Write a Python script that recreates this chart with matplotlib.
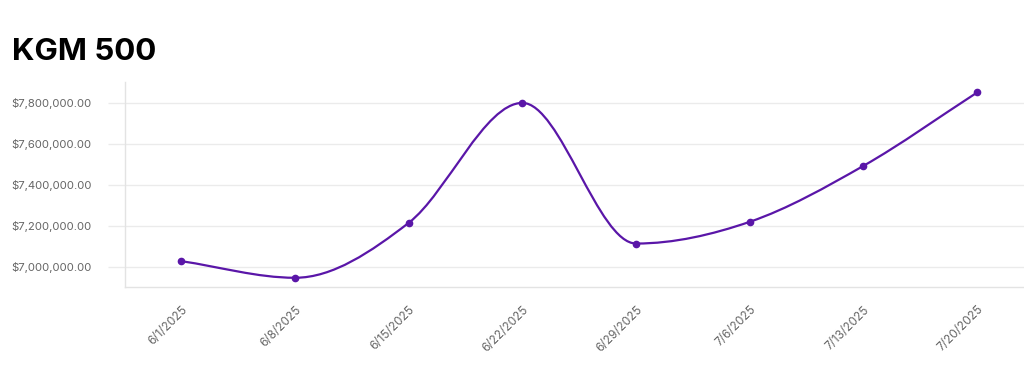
import matplotlib
matplotlib.use("Agg")
import matplotlib.pyplot as plt
from matplotlib.path import Path
from matplotlib.patches import PathPatch
from matplotlib.ticker import FuncFormatter
import matplotlib.transforms as mtrans
import numpy as np

plt.rcParams['font.family'] = ['Inter', 'DejaVu Sans']

title = "KGM 500"
dates = ["6/1/2025", "6/8/2025", "6/15/2025", "6/22/2025",
         "6/29/2025", "7/6/2025", "7/13/2025", "7/20/2025"]
values = [7026000, 6945000, 7213000, 7798000,
          7112000, 7218000, 7491000, 7849000]
y_ticks = [7000000, 7200000, 7400000, 7600000, 7800000]

LINE = '#5a16a8'
GRID = '#ebebeb'
TXT = '#666666'

W, H = 1024, 387
fig = plt.figure(figsize=(W / 100, H / 100), dpi=100)
fig.patch.set_facecolor('white')
left, right, top, bottom = 124.5, 1034.0, 82.0, 287.0
ax = fig.add_axes([left / W, 1 - bottom / H, (right - left) / W, (bottom - top) / H])
ax.set_facecolor('none')

x = np.arange(len(dates))
ax.set_xlim(-0.5, len(dates) - 0.5)
ax.set_ylim(6900000, 7900000)

ax.set_yticks(y_ticks)
ax.yaxis.set_major_formatter(FuncFormatter(lambda v, p: f"${v:,.2f}"))
ax.grid(axis='y', color=GRID, linewidth=1.0)
ax.set_axisbelow(True)
ax.tick_params(axis='y', length=12.2, color=GRID, width=1.0, pad=11.5,
               labelsize=8.2, labelcolor=TXT)
ax.set_xticks(x)
ax.set_xticklabels(dates, rotation=45, ha='right', va='center',
                   rotation_mode='anchor')
ax.tick_params(axis='x', length=0, pad=15, labelsize=8.5, labelcolor=TXT)
shift = mtrans.ScaledTranslation(4 / 100, 0, fig.dpi_scale_trans)
for lab in ax.get_xticklabels():
    lab.set_transform(lab.get_transform() + shift)

for s in ['top', 'right']:
    ax.spines[s].set_visible(False)
for s in ['left', 'bottom']:
    ax.spines[s].set_color('#e3e3e3')
    ax.spines[s].set_linewidth(1.0)

# Chart.js-style monotone cubic interpolation, computed in pixel space
fig.canvas.draw()
pts = ax.transData.transform(np.column_stack([x, values]))
n = len(pts)
px, py = pts[:, 0], pts[:, 1]
dk = np.diff(py) / np.diff(px)
mk = np.zeros(n)
mk[0] = dk[0]
mk[-1] = dk[-1]
for i in range(1, n - 1):
    if dk[i - 1] == 0 or dk[i] == 0 or np.sign(dk[i - 1]) != np.sign(dk[i]):
        mk[i] = 0
    else:
        mk[i] = (dk[i - 1] + dk[i]) / 2
for i in range(n - 1):
    if dk[i] == 0:
        mk[i] = mk[i + 1] = 0
        continue
    a = mk[i] / dk[i]
    b = mk[i + 1] / dk[i]
    sq = a * a + b * b
    if sq > 9:
        tau = 3 / np.sqrt(sq)
        mk[i] = a * tau * dk[i]
        mk[i + 1] = b * tau * dk[i]

verts = [pts[0]]
codes = [Path.MOVETO]
for i in range(n - 1):
    dx = (px[i + 1] - px[i]) / 3
    verts += [(px[i] + dx, py[i] + dx * mk[i]),
              (px[i + 1] - dx, py[i + 1] - dx * mk[i + 1]),
              pts[i + 1]]
    codes += [Path.CURVE4] * 3
verts = ax.transData.inverted().transform(np.array(verts))
ax.add_patch(PathPatch(Path(verts, codes), fill=False, edgecolor=LINE,
                       linewidth=1.6, capstyle='round', joinstyle='round',
                       clip_on=False, zorder=3))
ax.plot(x, values, linestyle='none', marker='o', markersize=4.5,
        color=LINE, zorder=4, clip_on=False)

fig.text(12 / W, 1 - 60 / H, title, fontsize=22.5, fontweight='bold',
         color='black', ha='left', va='baseline')

fig.savefig('out.png', dpi=100, facecolor='white')
